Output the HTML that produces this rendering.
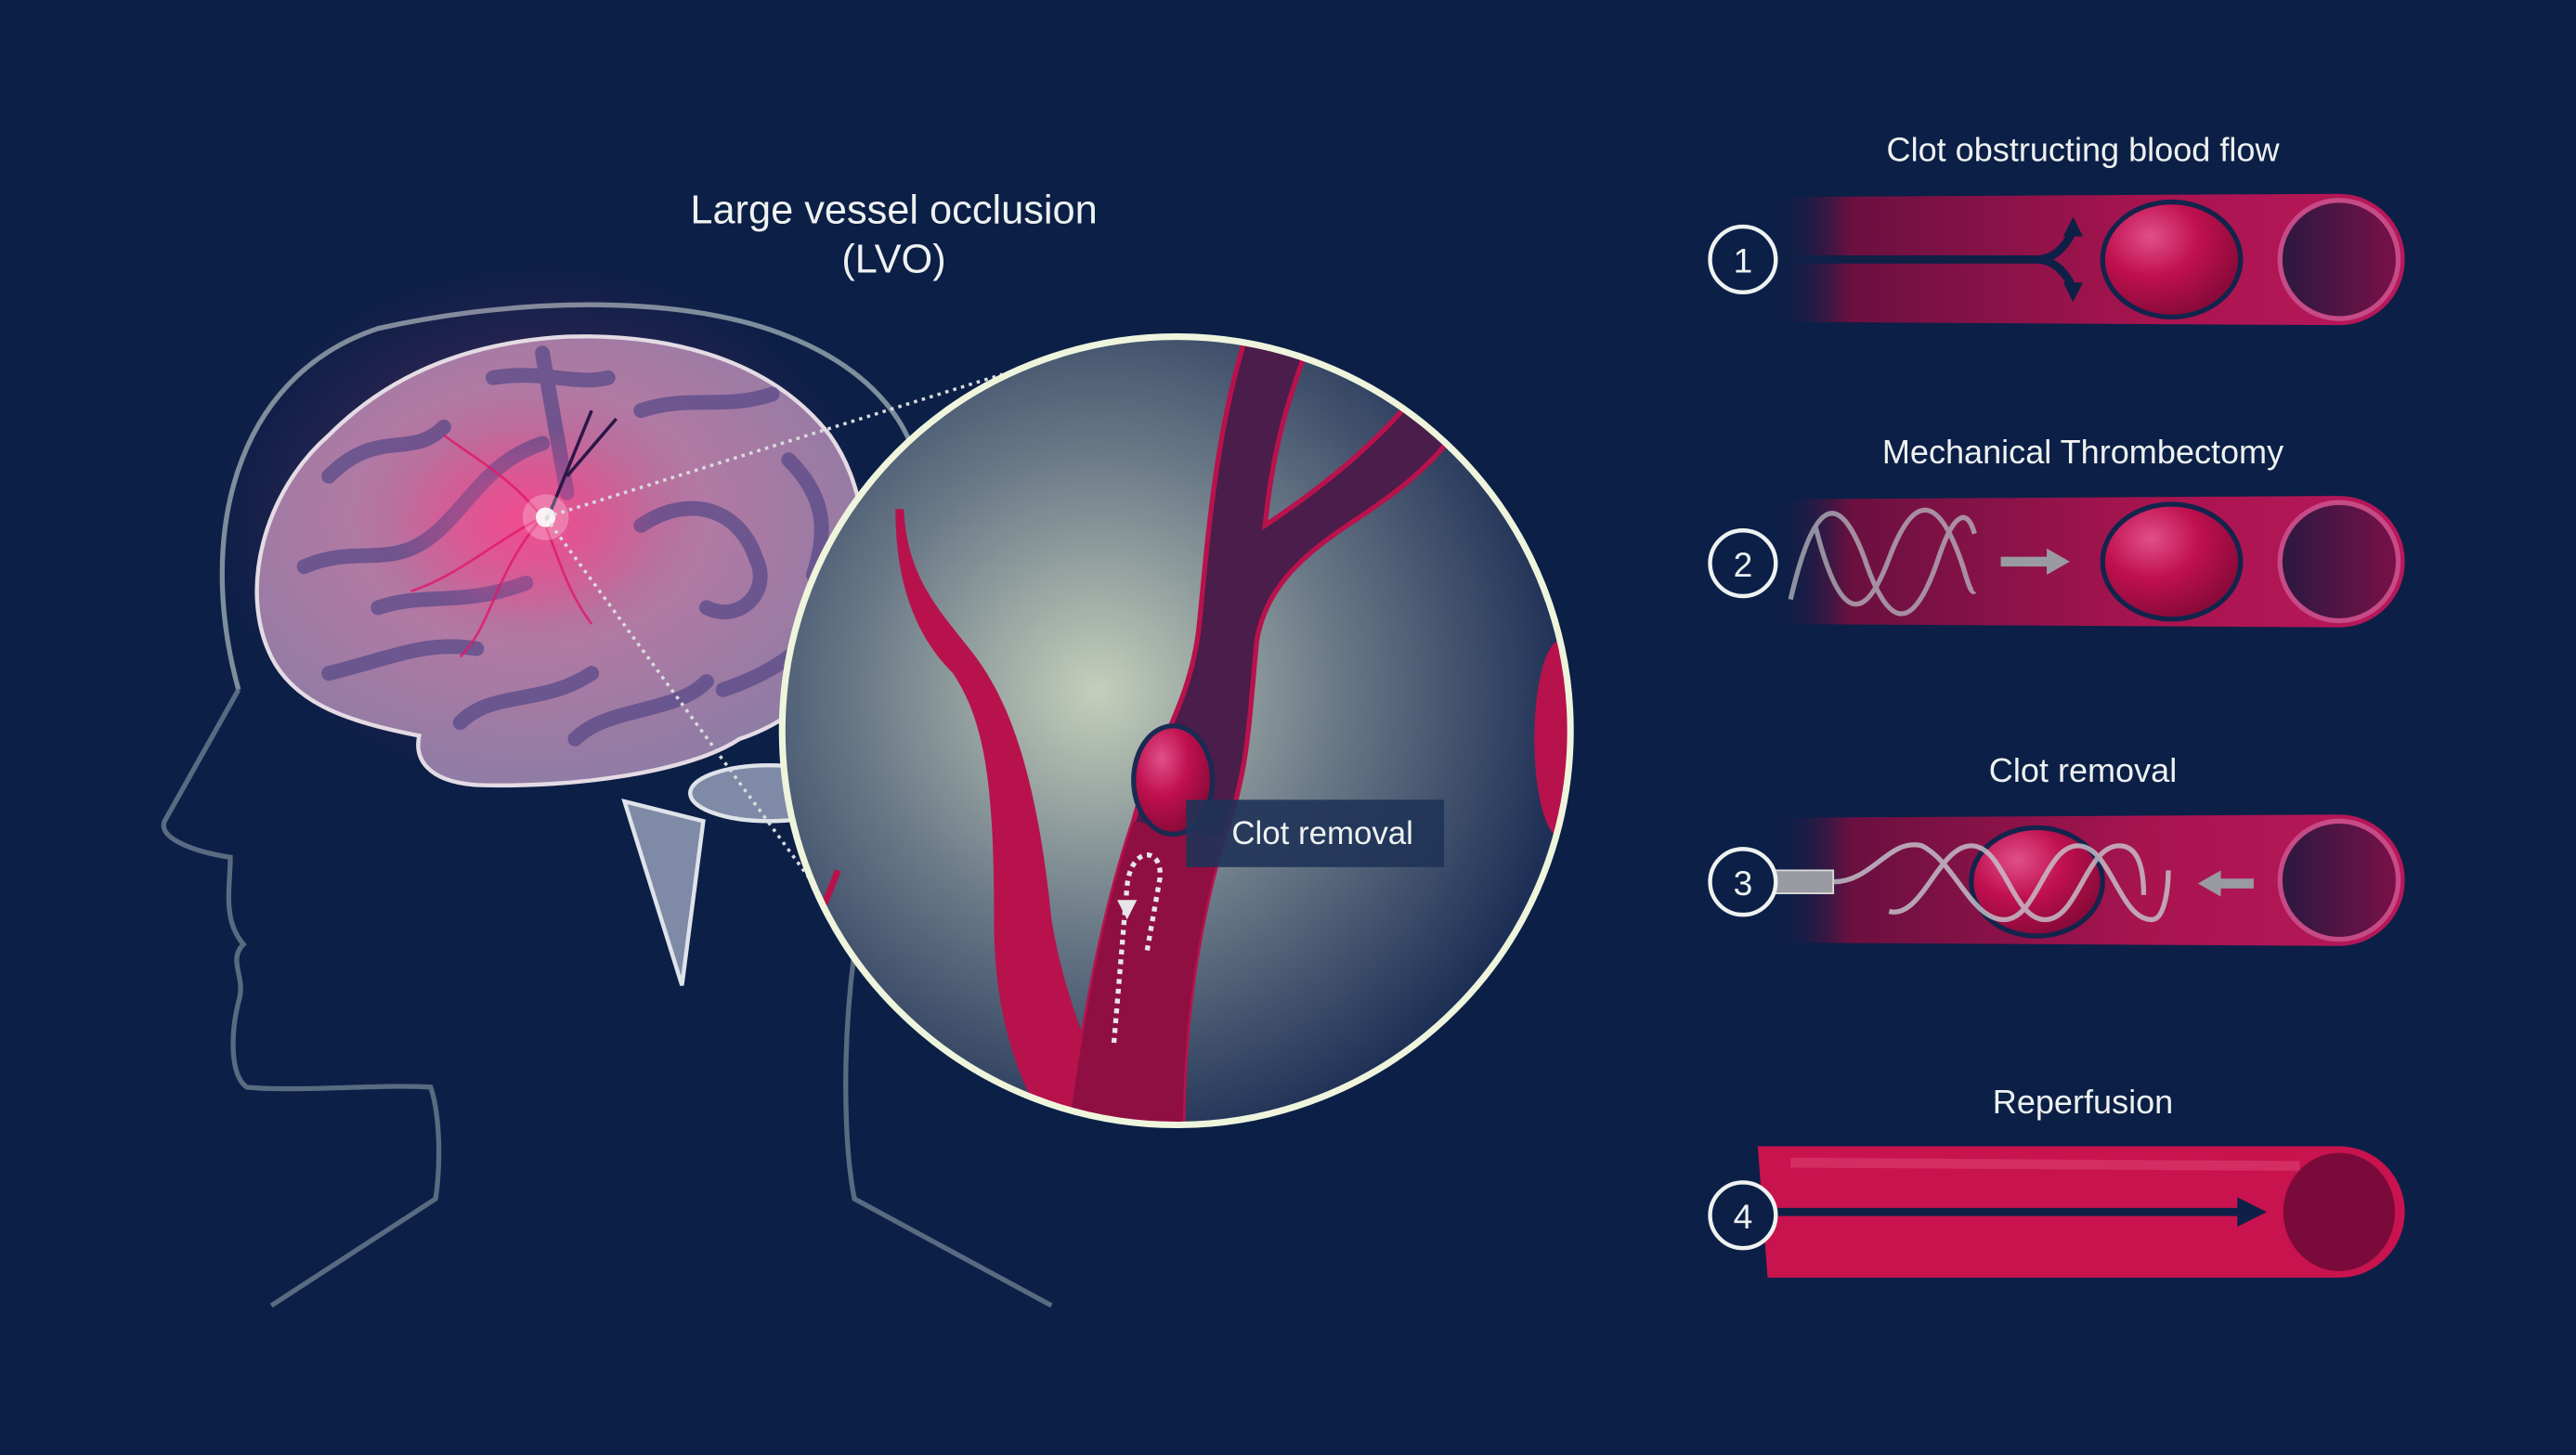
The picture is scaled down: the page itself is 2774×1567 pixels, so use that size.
<!DOCTYPE html>
<html><head><meta charset="utf-8"><style>
html,body{margin:0;padding:0;background:#0c1f47;}
svg{display:block;}
text{font-family:"Liberation Sans",sans-serif;fill:#eef2f0;}
</style></head><body>
<svg width="2774" height="1567" viewBox="0 0 1568 886" xmlns="http://www.w3.org/2000/svg">
<defs>
<radialGradient id="lens" cx="0.4" cy="0.45" r="0.6">
<stop offset="0" stop-color="#c4cfbb"/><stop offset="0.5" stop-color="#6b7a88"/><stop offset="1" stop-color="#1e2f55"/>
</radialGradient>
<radialGradient id="brain" cx="0.45" cy="0.4" r="0.65">
<stop offset="0" stop-color="#d8508e"/><stop offset="0.45" stop-color="#b07aa4"/><stop offset="1" stop-color="#8a7ca4"/>
</radialGradient>
<radialGradient id="glow" cx="0.5" cy="0.5" r="0.5">
<stop offset="0" stop-color="#ff4a90" stop-opacity="0.9"/><stop offset="1" stop-color="#ff4a90" stop-opacity="0"/>
</radialGradient>
<linearGradient id="tube" x1="0" x2="1" y1="0" y2="0">
<stop offset="0" stop-color="#0c1f47" stop-opacity="0"/><stop offset="0.12" stop-color="#6a1040"/><stop offset="0.6" stop-color="#a9144f"/><stop offset="1" stop-color="#b8175a"/>
</linearGradient>
<radialGradient id="clot" cx="0.35" cy="0.3" r="0.7">
<stop offset="0" stop-color="#e0508a"/><stop offset="0.5" stop-color="#c0104e"/><stop offset="1" stop-color="#8a0a3a"/>
</radialGradient>
<linearGradient id="endc" x1="0" x2="1"><stop offset="0" stop-color="#2a1840"/><stop offset="1" stop-color="#7a1048"/></linearGradient>
<clipPath id="cc"><circle cx="716" cy="445" r="240"/></clipPath>
</defs>
<rect width="1568" height="886" fill="#0c1f47"/>

<!-- head outline -->
<path d="M145,420 C120,330 140,230 230,200 C320,180 420,180 480,205 C530,225 560,260 560,300" fill="none" stroke="#7d8e9c" stroke-width="3"/>
<path d="M145,420 L100,500 C95,512 125,520 140,522 C140,540 135,560 148,575 C138,585 150,595 145,610 C140,630 140,655 150,662 C180,665 235,660 262,662 C268,680 268,710 265,730 L165,795" fill="none" stroke="#6d7e8e" stroke-width="3" stroke-opacity="0.8"/>
<path d="M520,580 C512,640 514,700 520,730 L640,795" fill="none" stroke="#6d7e8e" stroke-width="3" stroke-opacity="0.8"/>

<!-- brain -->
<ellipse cx="330" cy="320" rx="200" ry="160" fill="url(#glow)" opacity="0.35"/>
<path d="M380,488 L415,600 L428,500 Z" fill="#7e8aa6" stroke="#dfe3ea" stroke-width="2.5"/>
<ellipse cx="468" cy="483" rx="48" ry="17" fill="#7e8aa6" stroke="#dfe3ea" stroke-width="2.5"/>
<path d="M165,400 C145,360 160,300 200,265 C240,225 290,208 345,205 C410,203 470,220 505,265 C530,300 530,350 520,385 C505,420 480,440 450,450 C420,470 350,480 290,478 C260,476 252,462 255,448 C215,440 180,430 165,400 Z" fill="url(#brain)" stroke="#e4dbe4" stroke-width="2.5"/>
<g fill="none" stroke="#5a4a88" stroke-width="9" stroke-linecap="round" opacity="0.75">
<path d="M200,290 C230,260 250,280 270,260"/><path d="M185,345 C220,330 240,350 270,320 C290,300 300,280 330,270"/>
<path d="M300,230 C330,225 350,235 370,230"/><path d="M200,410 C240,400 260,390 290,395"/>
<path d="M280,440 C300,420 330,430 360,410"/><path d="M390,250 C420,240 440,250 470,240"/>
<path d="M390,320 C420,300 450,310 460,340 C470,360 450,380 430,370"/><path d="M480,280 C500,300 505,320 495,350"/>
<path d="M350,450 C370,430 410,435 430,415"/><path d="M230,370 C260,360 280,370 320,355"/>
<path d="M330,215 L345,300"/><path d="M440,420 C470,410 490,395 500,380"/>
</g>
<ellipse cx="320" cy="320" rx="80" ry="60" fill="url(#glow)" opacity="0.7"/>
<g stroke="#e0186a" stroke-width="1.5" fill="none" opacity="0.8">
<path d="M330,315 C300,330 280,350 250,360"/><path d="M330,315 C310,290 290,280 270,265"/><path d="M330,315 C340,340 345,360 360,380"/><path d="M330,315 C300,350 300,380 280,400"/>
</g>
<path d="M333,316 L360,250 M345,290 L375,255" stroke="#2a1848" stroke-width="2" fill="none"/>
<circle cx="332" cy="315" r="6" fill="#fff" opacity="0.9"/>
<circle cx="332" cy="315" r="14" fill="#fff" opacity="0.25"/>
<path d="M515,330 C530,350 530,380 510,392" stroke="#c0134f" stroke-width="6" fill="none"/>
<path d="M332,315 L610,228 M332,315 L500,545" stroke="#d8dcdc" stroke-width="2" stroke-dasharray="2,3" fill="none"/>

<!-- lens -->
<circle cx="716" cy="445" r="240" fill="url(#lens)"/>
<g clip-path="url(#cc)">
<path d="M545,310 C545,360 560,390 580,410 C600,440 605,480 605,560 C605,620 620,660 640,690 L680,690 C670,650 650,620 640,560 C630,460 610,420 590,395 C570,370 552,350 550,310 Z" fill="#b8124c"/>
<path d="M760,200 C740,260 735,330 730,380 C725,430 700,460 690,500 C670,560 660,620 650,690 L720,690 C720,620 730,560 745,510 C760,470 760,440 765,390 C770,360 790,340 820,320 C850,300 880,280 900,240 L870,230 C840,270 800,300 770,320 C775,270 785,240 800,200 Z" fill="#4a1d4a" stroke="#b8124c" stroke-width="3"/>
<path d="M690,500 C670,560 660,620 650,690 L720,690 C720,620 730,560 745,510 Z" fill="#8f0f42"/>
<ellipse cx="950" cy="450" rx="16" ry="60" fill="#b8124c"/>
<path d="M500,555 L510,530" stroke="#b8124c" stroke-width="4"/>
</g>
<ellipse cx="714" cy="475" rx="24" ry="33" fill="url(#clot)" stroke="#1a2a52" stroke-width="3"/>
<path d="M678,635 L686,540 C688,515 708,515 706,535 L698,580" fill="none" stroke="#e6e6e6" stroke-width="3" stroke-dasharray="3,3"/>
<path d="M680,548 L686,560 L692,548 Z" fill="#e6e6e6"/>
<rect x="722" y="487" width="157" height="41" fill="#1f3358" opacity="0.9"/>
<text x="805" y="514" font-size="19.7" text-anchor="middle">Clot removal</text>
<circle cx="716" cy="445" r="240" fill="none" stroke="#eef5dc" stroke-width="4"/>

<text x="544" y="136" font-size="24.5" text-anchor="middle">Large vessel occlusion</text>
<text x="544" y="166" font-size="24.5" text-anchor="middle">(LVO)</text>

<g font-size="20.4">
<text x="1268" y="98" text-anchor="middle">Clot obstructing blood flow</text>
<text x="1268" y="282" text-anchor="middle">Mechanical Thrombectomy</text>
<text x="1268" y="476" text-anchor="middle">Clot removal</text>
<text x="1268" y="678" text-anchor="middle">Reperfusion</text>
</g>

<!-- tube 1 -->
<path d="M1080,120 L1424,118 A40,40 0 0 1 1424,198 L1080,196 Z" fill="url(#tube)"/>
<circle cx="1424" cy="158" r="36" fill="url(#endc)" stroke="#c64a86" stroke-width="3"/>
<path d="M1080,158 L1240,158 C1250,158 1258,150 1262,140 M1240,158 C1250,158 1258,166 1262,176" stroke="#0f2046" stroke-width="5" fill="none"/>
<path d="M1262,132 L1256,144 L1268,144Z M1262,184 L1256,172 L1268,172Z" fill="#0f2046"/>
<ellipse cx="1322" cy="158" rx="42" ry="35" fill="url(#clot)" stroke="#13244c" stroke-width="3"/>
<!-- tube 2 -->
<path d="M1080,304 L1424,302 A40,40 0 0 1 1424,382 L1080,380 Z" fill="url(#tube)"/>
<circle cx="1424" cy="342" r="36" fill="url(#endc)" stroke="#c64a86" stroke-width="3"/>
<g fill="none" stroke="#b8b8c0" stroke-width="3" opacity="0.75">
<path d="M1090,365 C1105,300 1120,300 1135,340 C1150,385 1165,385 1180,340 C1190,310 1198,310 1202,325"/>
<path d="M1105,320 C1120,380 1135,380 1150,340 C1165,300 1180,300 1195,345 C1198,355 1200,362 1202,360"/>
</g>
<path d="M1218,342 L1248,342" stroke="#9a9aa2" stroke-width="6"/><path d="M1246,334 L1260,342 L1246,350Z" fill="#9a9aa2"/>
<ellipse cx="1322" cy="342" rx="42" ry="35" fill="url(#clot)" stroke="#13244c" stroke-width="3"/>
<!-- tube 3 -->
<path d="M1080,498 L1424,496 A40,40 0 0 1 1424,576 L1080,574 Z" fill="url(#tube)"/>
<circle cx="1424" cy="536" r="36" fill="url(#endc)" stroke="#c64a86" stroke-width="3"/>
<ellipse cx="1240" cy="537" rx="40" ry="33" fill="url(#clot)" stroke="#13244c" stroke-width="3"/>
<rect x="1080" y="530" width="36" height="14" fill="#9a9aa2" stroke="#ddd" stroke-width="1"/>
<g fill="none" stroke="#c8c8d0" stroke-width="3" opacity="0.8">
<path d="M1116,537 C1140,537 1150,510 1170,515 C1190,525 1200,560 1220,560 C1240,560 1245,515 1265,515 C1285,515 1290,560 1310,560 C1318,560 1320,540 1320,530"/>
<path d="M1150,555 C1170,560 1180,515 1200,515 C1220,515 1225,560 1245,560 C1265,560 1270,515 1290,515 C1300,515 1305,525 1305,545"/>
</g>
<path d="M1350,538 L1372,538" stroke="#9a9aa2" stroke-width="6"/><path d="M1352,530 L1338,538 L1352,546Z" fill="#9a9aa2"/>
<!-- tube 4 -->
<path d="M1070,698 L1424,698 A40,40 0 0 1 1424,778 L1076,778 Z" fill="#c8134f"/>
<path d="M1090,708 L1400,710" stroke="#e0487a" stroke-width="6" opacity="0.5"/>
<ellipse cx="1424" cy="738" rx="34" ry="36" fill="#7a0a3a"/>
<path d="M1080,738 L1365,738" stroke="#0f2046" stroke-width="5"/><path d="M1362,729 L1380,738 L1362,747Z" fill="#0f2046"/>

<g fill="#0c1f47" stroke="#eef2f0" stroke-width="2.5">
<circle cx="1061" cy="158" r="20"/><circle cx="1061" cy="343" r="20"/><circle cx="1061" cy="537" r="20"/><circle cx="1061" cy="740" r="20"/>
</g>
<g font-size="21" text-anchor="middle">
<text x="1061" y="166">1</text><text x="1061" y="351">2</text><text x="1061" y="545">3</text><text x="1061" y="748">4</text>
</g>
</svg>
</body></html>
